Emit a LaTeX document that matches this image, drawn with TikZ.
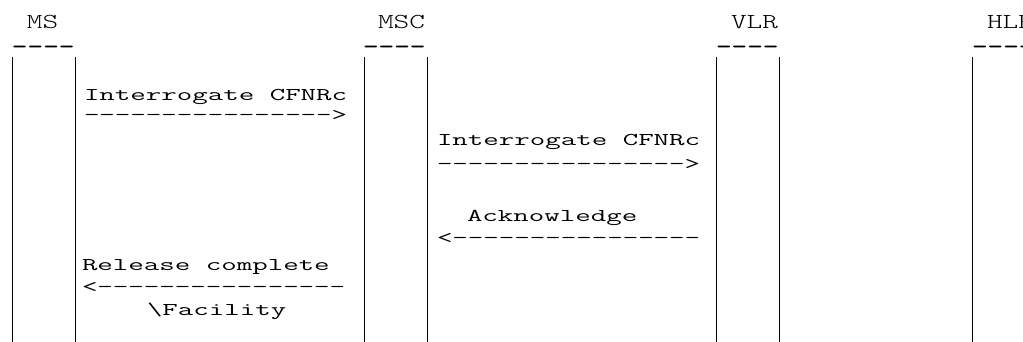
\documentclass[tikz,border=0pt]{standalone}
\usepackage{graphicx}
\newcommand\bodytxt[1]{\scalebox{1.67}[1]{#1}}
\newcommand\headtxt[1]{\scalebox{1.40}[1]{#1}}
\tikzset{
  msg/.style={anchor=base west, inner sep=0pt, outer sep=0pt,
    font=\ttfamily\fontsize{18}{18}\selectfont},
  head/.style={anchor=base west, inner sep=0pt, outer sep=0pt,
    font=\ttfamily\fontseries{l}\fontsize{21.3}{21.3}\selectfont},
  bar/.style={anchor=south west, inner sep=0pt, outer sep=0pt,
    font=\ttfamily\bfseries\fontsize{21.3}{21.3}\selectfont},
  life/.style={line width=1pt, black}
}
\begin{document}
\begin{tikzpicture}[x=1pt,y=-1pt]
\useasboundingbox (0,0) rectangle (1023,342);
\clip (0,0) rectangle (1023,342);
% headers
\node[head] (hMS)  at (27,29)  {\headtxt{MS}};
\node[head] (hMSC) at (378,29) {\headtxt{MSC}};
\node[head] (hVLR) at (731,29) {\headtxt{VLR}};
\node[head] (hHLR) at (987,29) {\headtxt{HLR}};
\node[bar] (uMS)  at (12,47.5)  {\headtxt{\_\_\_\_}};
\node[bar] (uMSC) at (363,47.5) {\headtxt{\_\_\_\_}};
\node[bar] (uVLR) at (716,47.5) {\headtxt{\_\_\_\_}};
\node[bar] (uHLR) at (972,47.5) {\headtxt{\_\_\_\_}};
% lifelines
\foreach \n/\x in {a/12,b/75,c/364,d/427,e/716,f/779,g/972}{
  \coordinate (\n top) at (\x,57);
  \coordinate (\n bot) at (\x,342);
}
\foreach \n in {a,b,c,d,e,f,g}{\draw[life] (\n top) -- (\n bot);}
% messages
\node[msg] (m1)  at (84,101)  {\bodytxt{Interrogate CFNRc}};
\node[msg] (a1)  at (84,121)  {\bodytxt{---------------->}};
\node[msg] (m2)  at (437,146) {\bodytxt{Interrogate CFNRc}};
\node[msg] (a2)  at (437,170) {\bodytxt{---------------->}};
\node[msg] (m3)  at (467,221) {\bodytxt{Acknowledge}};
\node[msg] (a3)  at (437,243) {\bodytxt{<----------------}};
\node[msg] (m4)  at (82,270)  {\bodytxt{Release complete}};
\node[msg] (a4)  at (82,292)  {\bodytxt{<----------------}};
\node[msg] (m5)  at (147,315) {\bodytxt{\textbackslash Facility}};
\end{tikzpicture}
\end{document}
